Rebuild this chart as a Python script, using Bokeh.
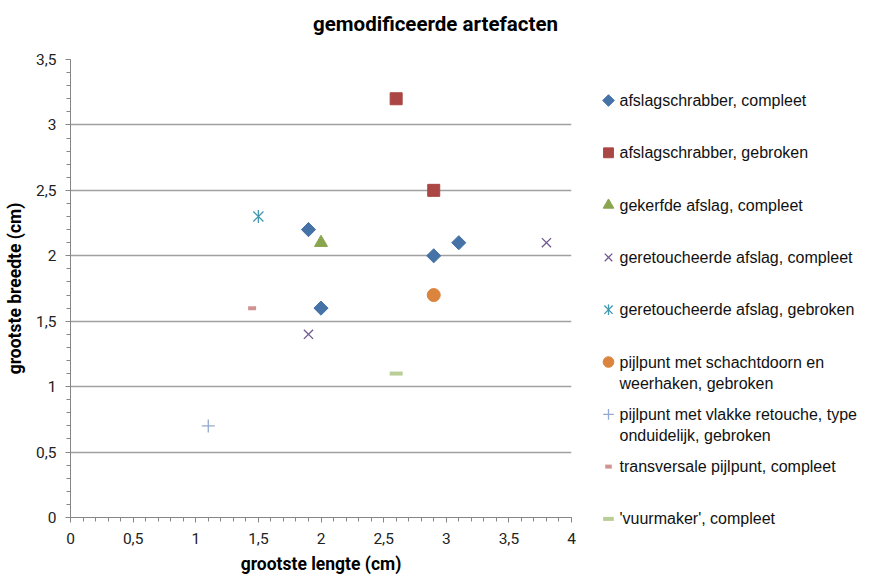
import math
from bokeh.plotting import figure
from bokeh.layouts import row
from bokeh.models import Range1d, SingleIntervalTicker, CustomJSTickFormatter
from bokeh.embed import file_html
from bokeh.resources import INLINE
from bokeh.core.properties import value

# ---- data ----
title_text = "gemodificeerde artefacten"
categories = [
    "afslagschrabber, compleet",
    "afslagschrabber, gebroken",
    "gekerfde afslag, compleet",
    "geretoucheerde afslag, compleet",
    "geretoucheerde afslag, gebroken",
    "pijlpunt met schachtdoorn  en\nweerhaken, gebroken",
    "pijlpunt met vlakke retouche, type\nonduidelijk, gebroken",
    "transversale pijlpunt, compleet",
    "'vuurmaker', compleet",
]
afslagschrabber_compleet_x = [1.9, 2.0, 2.9, 3.1]
afslagschrabber_compleet_y = [2.2, 1.6, 2.0, 2.1]
afslagschrabber_gebroken_x = [2.6, 2.9]
afslagschrabber_gebroken_y = [3.2, 2.5]
gekerfde_compleet_x = [2.0]
gekerfde_compleet_y = [2.1]
geretoucheerde_compleet_x = [3.8, 1.9]
geretoucheerde_compleet_y = [2.1, 1.4]
geretoucheerde_gebroken_x = [1.5]
geretoucheerde_gebroken_y = [2.3]
schachtdoorn_x = [2.9]
schachtdoorn_y = [1.7]
vlakke_retouche_x = [1.1]
vlakke_retouche_y = [0.7]
transversale_x = [1.45]
transversale_y = [1.6]
vuurmaker_x = [2.6]
vuurmaker_y = [1.1]

series_x = [afslagschrabber_compleet_x, afslagschrabber_gebroken_x, gekerfde_compleet_x,
            geretoucheerde_compleet_x, geretoucheerde_gebroken_x, schachtdoorn_x,
            vlakke_retouche_x, transversale_x, vuurmaker_x]
series_y = [afslagschrabber_compleet_y, afslagschrabber_gebroken_y, gekerfde_compleet_y,
            geretoucheerde_compleet_y, geretoucheerde_gebroken_y, schachtdoorn_y,
            vlakke_retouche_y, transversale_y, vuurmaker_y]

# ---- styles ----
styles = [
    dict(kind="diamond", color="#4572A7", size=10),
    dict(kind="square", color="#AA4643", size=12),
    dict(kind="triangle", color="#89A54E", size=13),
    dict(kind="x", color="#71588F", size=13),
    dict(kind="star", color="#4198AF", size=13),
    dict(kind="circle", color="#DB843D", size=13),
    dict(kind="cross", color="#93A9CF", size=13),
    dict(kind="dash", color="#D19392", size=8),
    dict(kind="dash", color="#B9CD96", size=13),
]


def draw(fig, xs, ys, st, scale=1.0, level="glyph"):
    k = st["kind"]
    c = st["color"]
    s = st["size"] * scale
    if k == "diamond":
        fig.scatter(xs, ys, marker="square", angle=math.pi / 4, size=s, fill_color=c,
                    line_color=c, level=level)
    elif k in ("square", "triangle", "circle"):
        fig.scatter(xs, ys, marker=k, size=s, fill_color=c, line_color=c, level=level)
    elif k in ("x", "cross"):
        fig.scatter(xs, ys, marker=k, size=s, line_color=c, line_width=1.3, level=level)
    elif k == "star":
        fig.scatter(xs, ys, marker="x", size=s * 1.1, line_color=c, line_width=1.3, level=level)
        fig.scatter(xs, ys, marker="dash", angle=math.pi / 2, size=s, line_color=c,
                    line_width=1.3, level=level)
    elif k == "dash":
        fig.scatter(xs, ys, marker="dash", size=s, line_color=c, line_width=4, level=level)


AX_FONT = "Roboto"
GRID = "#a0a0a0"
AXC = "#868686"
F_TOP, F_BOTTOM, F_LEFT = 59, 59, 70
H = 576
X_MAX, Y_MAX = 4, 3.5

p = figure(width=590, height=H, x_range=Range1d(0, X_MAX), y_range=Range1d(0, Y_MAX),
           toolbar_location=None, output_backend="svg",
           min_border_left=F_LEFT, min_border_right=19, min_border_bottom=F_BOTTOM,
           min_border_top=F_TOP)
p.outline_line_color = None

fmt = CustomJSTickFormatter(code="return tick.toString().replace('.', ',');")
for ax in (p.xaxis[0], p.yaxis[0]):
    ax.ticker = SingleIntervalTicker(interval=0.5, num_minor_ticks=5)
    ax.formatter = fmt
    ax.axis_line_color = AXC
    ax.major_tick_line_color = AXC
    ax.minor_tick_line_color = AXC
    ax.major_tick_in = 0
    ax.major_tick_out = 5
    ax.minor_tick_in = 0
    ax.minor_tick_out = 4
    ax.major_label_text_font = AX_FONT
    ax.major_label_text_font_size = "15.5px"
    ax.major_label_text_color = "#222222"
    ax.axis_label_text_font = AX_FONT
    ax.axis_label_text_font_size = "17.5px"
    ax.axis_label_text_font_style = "bold"
    ax.axis_label_text_color = "#000000"

p.xaxis.axis_label = "grootste lengte (cm)"
p.yaxis.axis_label = "grootste breedte (cm)"
p.xaxis.major_label_standoff = 10
p.yaxis.major_label_standoff = 9
p.xaxis.axis_label_standoff = 7
p.yaxis.axis_label_standoff = 8

p.xgrid.visible = False
p.ygrid.ticker = p.yaxis[0].ticker
p.ygrid.grid_line_color = GRID
p.ygrid.grid_line_width = 1.4

for xs, ys, st in zip(series_x, series_y, styles):
    draw(p, xs, ys, st)

# chart title, centred over the whole 870px chart, placed in the top border
frame_w = 590 - F_LEFT - 19
frame_h = H - F_TOP - F_BOTTOM
title_cx = (435 - F_LEFT) / frame_w * X_MAX
title_cy = Y_MAX + (F_TOP - 23) / frame_h * Y_MAX
p.text([title_cx], [title_cy], text=[title_text], text_align="center",
       text_baseline="middle", text_font=value(AX_FONT), text_font_size="20.5px",
       text_font_style="bold", text_color="#000000", level="overlay")

# ---- legend panel (data units = screen pixels) ----
leg = figure(width=280, height=H, x_range=Range1d(0, 280), y_range=Range1d(H - F_BOTTOM, F_TOP),
             toolbar_location=None, output_backend="svg", x_axis_type=None, y_axis_type=None,
             min_border_left=0, min_border_right=0, min_border_top=F_TOP,
             min_border_bottom=F_BOTTOM)
leg.outline_line_color = None
leg.grid.visible = False

LEG_TOP = 100
LEG_STEP = 52.3
for i, (name, st) in enumerate(zip(categories, styles)):
    yy = LEG_TOP + LEG_STEP * i
    draw(leg, [18], [yy], st, scale=0.82, level="overlay")
    lines = name.split("\n")
    for j, ln in enumerate(lines):
        leg.text([29], [yy + 21 * j], text=[ln], text_font=value("Liberation Sans"),
                 text_font_size="16px", text_baseline="middle", text_align="left",
                 text_color="#111111", level="overlay")

layout = row(p, leg)
open("out.html", "w").write(file_html(layout, INLINE))
